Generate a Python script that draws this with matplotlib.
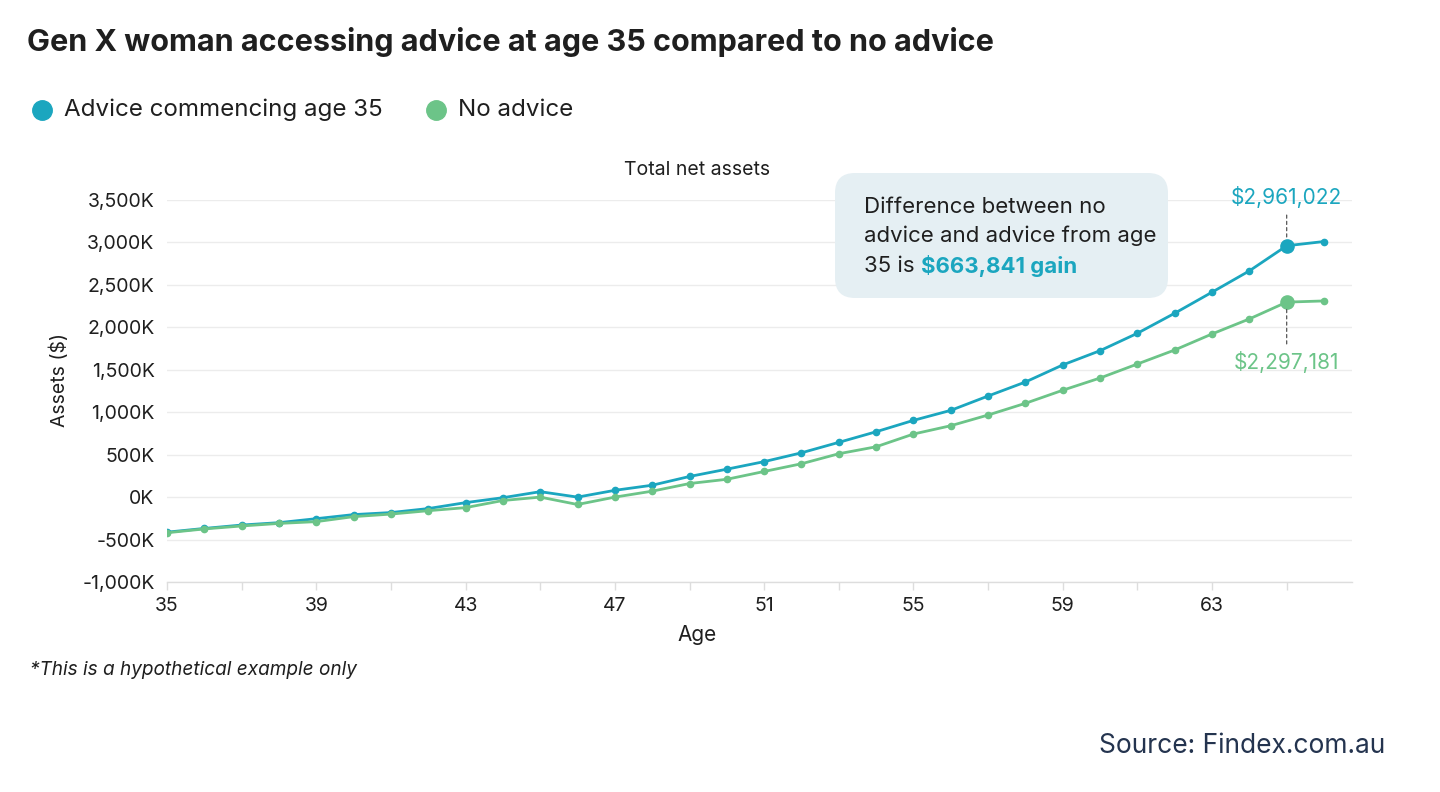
import numpy as np
import matplotlib
matplotlib.use("Agg")
import matplotlib.pyplot as plt
from matplotlib.patches import FancyBboxPatch
from matplotlib.ticker import FuncFormatter, MultipleLocator, FixedLocator
from matplotlib.transforms import IdentityTransform

# ages 35..66
ages = list(range(35, 67))

# total net assets in $K
advice = [-413, -369, -329, -301, -254, -206, -182, -135, -65, -7,
          64, 0, 80, 140, 243, 329, 418, 522, 645, 770,
          904, 1022, 1191, 1356, 1557, 1725, 1930, 2166, 2414, 2665,
          2961, 3011]
no_advice = [-420, -375, -340, -310, -289, -230, -200, -160, -124, -40,
             0, -87, 0, 70, 160, 210, 302, 393, 511, 593,
             743, 841, 967, 1105, 1259, 1403, 1568, 1733, 1922, 2099,
             2297, 2311]

series_names = ["Advice commencing age 35", "No advice"]
highlight_age = 65
highlight_labels = ["$2,961,022", "$2,297,181"]

TEAL = "#1ba6bf"
GREEN = "#6cc488"
DARK = "#1f1f1f"
GRID = "#ececec"

plt.rcParams["font.family"] = ["Inter", "DejaVu Sans"]

W, H = 1440, 792
fig = plt.figure(figsize=(W / 100, H / 100), dpi=100)


def fx(px):
    return px / W


def fy(py):
    return 1 - py / H


ax = fig.add_axes([fx(167), fy(582), fx(1352) - fx(167), fy(200) - fy(582)])

for vals, col in [(advice, TEAL), (no_advice, GREEN)]:
    ax.plot(ages, vals, color=col, lw=2.0, marker="o", ms=4.5, zorder=3)
    i = ages.index(highlight_age)
    ax.plot(ages[i], vals[i], "o", color=col, ms=9.5, zorder=4)

# value labels with dashed leaders
i = ages.index(highlight_age)
dash = dict(arrowstyle="-", linestyle=(0, (2.5, 2.5)), color="#555555", lw=0.9,
            shrinkA=3, shrinkB=5)
ax.annotate(highlight_labels[0], xy=(ages[i], advice[i]), xytext=(0, 35),
            textcoords="offset points", ha="center", va="center",
            fontsize=15, color=TEAL, arrowprops=dash, zorder=5)
ax.annotate(highlight_labels[1], xy=(ages[i], no_advice[i]), xytext=(0, -43),
            textcoords="offset points", ha="center", va="center",
            fontsize=15, color=GREEN, arrowprops=dash, zorder=5)

ax.set_xlim(35, 66.75)
ax.set_ylim(-1000, 3500)
ax.yaxis.set_major_locator(MultipleLocator(500))
ax.yaxis.set_major_formatter(FuncFormatter(lambda v, p: f"{int(v):,}K"))
ax.xaxis.set_major_locator(FixedLocator(list(range(35, 67, 4))))
ax.xaxis.set_minor_locator(FixedLocator(list(range(37, 67, 4))))

ax.grid(axis="y", color=GRID, lw=1)
ax.set_axisbelow(True)
for s in ["top", "right", "left"]:
    ax.spines[s].set_visible(False)
ax.spines["bottom"].set_color("#dddddd")
ax.spines["bottom"].set_linewidth(1)
ax.tick_params(axis="y", length=0, pad=9, labelsize=14, labelcolor=DARK)
ax.tick_params(axis="x", which="both", length=6, color="#dddddd", width=1,
               pad=5, labelsize=14, labelcolor=DARK)

ax.set_ylabel("Assets ($)", fontsize=14, color=DARK)
ax.yaxis.set_label_coords(-0.083, 0.529)
ax.set_xlabel("Age", fontsize=15, color=DARK)
ax.xaxis.set_label_coords((697 - 167) / 1185, (582 - 635) / 382)
ax.xaxis.label.set_va("center")

# title and legend
fig.text(fx(27), fy(42), "Gen X woman accessing advice at age 35 compared to no advice",
         fontsize=22, fontweight="bold", color=DARK, va="center")
fig.text(fx(697), fy(170), "Total net assets", fontsize=14, color=DARK,
         ha="center", va="center")

for cx, tx, name, col in [(42, 64, series_names[0], TEAL), (436, 458, series_names[1], GREEN)]:
    fig.lines.append(plt.Line2D([fx(cx)], [fy(110)], marker="o", ms=14, color=col,
                                transform=fig.transFigure))
    fig.text(fx(tx), fy(110), name, fontsize=17.4, color=DARK, va="center")

# callout box
box = FancyBboxPatch((835, H - 298), 333, 125, boxstyle="round,pad=0,rounding_size=20",
                     transform=IdentityTransform(), facecolor="#e5eff3",
                     edgecolor="none", zorder=6)
fig.patches.append(box)
fig.text(fx(864), fy(207), "Difference between no", fontsize=16, color=DARK,
         va="center", zorder=7)
fig.text(fx(864), fy(236), "advice and advice from age", fontsize=16, color=DARK,
         va="center", zorder=7)
t1 = fig.text(fx(864), fy(266), "35 is ", fontsize=16, color=DARK, va="center", zorder=7)
fig.canvas.draw()
bb = t1.get_window_extent()
fig.text(bb.x1 / W, fy(266), "$663,841 gain", fontsize=16, color=TEAL,
         fontweight="bold", va="center", zorder=7)

# footnote and source
fig.text(fx(30), fy(670), "*This is a hypothetical example only", fontsize=13.7,
         style="italic", color=DARK, va="center")
fig.text(fx(1385), fy(746), "Source: Findex.com.au", fontsize=19,
         color="#24344f", ha="right", va="center")

fig.savefig("out.png", dpi=100)
